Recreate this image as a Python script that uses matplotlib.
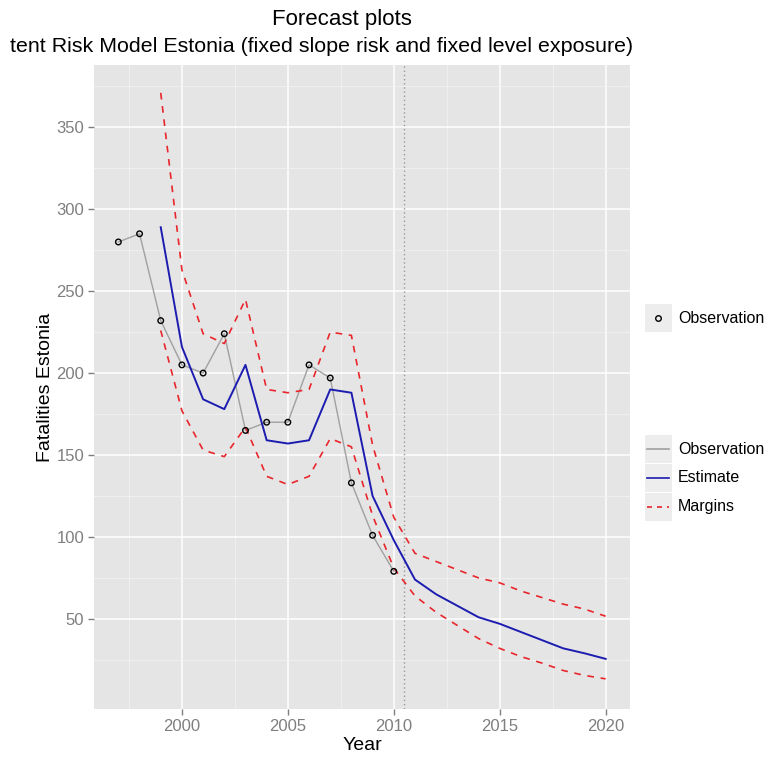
import numpy as np
import matplotlib.pyplot as plt
from matplotlib.patches import Rectangle
from matplotlib.lines import Line2D

plt.rcParams['font.family'] = ['Liberation Sans', 'DejaVu Sans']

obs_years = np.arange(1997, 2011)
obs_vals = [280, 285, 232, 205, 200, 224, 165, 170, 170, 205, 197, 133, 101, 79]

est_years = np.arange(1999, 2021)
est_vals = [289, 216, 184, 178, 205, 159, 157, 159, 190, 188, 125, 98,
            74, 65, 58, 51, 47, 42, 37, 32, 29, 25.6]
upper_vals = [371, 263, 224, 218, 245, 190, 188, 190, 225, 223, 156, 112,
              90, 85, 80, 75, 72, 67, 63, 59, 56, 51.6]
lower_vals = [226, 177, 153, 149, 167, 137, 132, 137, 160, 155, 113, 81,
              64, 54, 46, 38, 32, 27, 23, 18.5, 15.5, 13.4]

forecast_start = 2010.5
x_ticks = [2000, 2005, 2010, 2015, 2020]
y_ticks = [50, 100, 150, 200, 250, 300, 350]

W, H = 772, 760
fig = plt.figure(figsize=(W / 100, H / 100), dpi=100)
ax = fig.add_axes([94 / W, 1 - 709 / H, (630 - 94) / W, (709 - 65) / H])
ax.set_facecolor('#e5e5e5')
for s in ax.spines.values():
    s.set_visible(False)

# grid like ggplot
for x in np.arange(1997.5, 2021, 2.5):
    lw, c = (1.1, 'white') if x in x_ticks else (0.6, '#f2f2f2')
    ax.axvline(x, color=c, lw=lw, zorder=0)
for y in np.arange(25, 388, 25):
    lw, c = (1.1, 'white') if y in y_ticks else (0.6, '#f2f2f2')
    ax.axhline(y, color=c, lw=lw, zorder=0)

ax.axvline(forecast_start, color='#999999', lw=1, ls=(0, (1, 2)), zorder=1)

ax.plot(obs_years, obs_vals, color='#a0a0a0', lw=1.0, zorder=2)
ax.plot(est_years, est_vals, color='#1c1cb0', lw=1.4, zorder=3)
ax.plot(est_years, upper_vals, color='#e8262b', lw=1.2, ls=(0, (4, 4)), zorder=3)
ax.plot(est_years, lower_vals, color='#e8262b', lw=1.2, ls=(0, (4, 4)), zorder=3)
ax.scatter(obs_years, obs_vals, s=16, facecolors='none', edgecolors='black',
           linewidths=1.0, zorder=4)

ax.set_xlim(1995.85, 2021.15)
ax.set_ylim(-5, 388)
ax.set_xticks(x_ticks)
ax.set_yticks(y_ticks)
ax.tick_params(colors='#7f7f7f', labelcolor='#7f7f7f', labelsize=12,
               length=4, width=1, pad=3)
ax.set_xlabel('Year', fontsize=14, labelpad=2)
ax.set_ylabel('Fatalities Estonia', fontsize=14, labelpad=2)

fig.text(342 / W, 1 - 19 / H, 'Forecast plots', ha='center', va='center', fontsize=16)
fig.text(10 / W, 1 - 46 / H,
         'tent Risk Model Estonia (fixed slope risk and fixed level exposure)',
         ha='left', va='center', fontsize=15.4)


# legends drawn by hand (ggplot-like grey key boxes)
def key_box(px, py):
    fig.patches.append(Rectangle(((px - 13) / W, 1 - (py + 14) / H), 27 / W, 28 / H,
                                 transform=fig.transFigure, facecolor='#ededed',
                                 edgecolor='none'))


key_box(658, 318)
fig.add_artist(Line2D([658 / W], [1 - 318 / H], marker='o', ms=4, mfc='none',
                      mec='black', mew=1.0, transform=fig.transFigure))
fig.text(678 / W, 1 - 318 / H, 'Observation', va='center', fontsize=11.5)

rows = [(449, 'Observation', '#a0a0a0', '-'), (478, 'Estimate', '#1c1cb0', '-'),
        (507, 'Margins', '#e8262b', (0, (3, 3)))]
for py, lab, c, ls in rows:
    key_box(658, py)
    fig.add_artist(Line2D([647 / W, 669 / W], [1 - py / H, 1 - py / H], color=c,
                          lw=1.2, ls=ls, transform=fig.transFigure))
    fig.text(678 / W, 1 - py / H, lab, va='center', fontsize=11.5)

fig.savefig('out.png', dpi=100)
